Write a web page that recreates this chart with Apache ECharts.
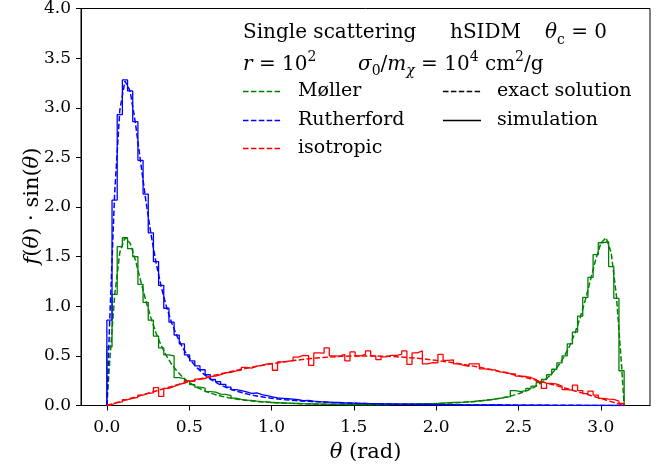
<!DOCTYPE html>
<html>
<head>
<meta charset="utf-8">
<script src="https://cdn.jsdelivr.net/npm/echarts@6/dist/echarts.min.js"></script>
<style>html,body{margin:0;padding:0;background:#fff}#chart{width:671px;height:473px}</style>
</head>
<body>
<div id="chart"></div>
<script>
// ---------- data ----------
const BIN_COUNT = 100;          // histogram bins over [0, pi]
const THETA_MAX = Math.PI;
const xTicks = [0.0, 0.5, 1.0, 1.5, 2.0, 2.5, 3.0];
const yTicks = [0.0, 0.5, 1.0, 1.5, 2.0, 2.5, 3.0, 3.5, 4.0];

// exact solutions, sampled at bin centres
const mollerExact = [
0.4065,1.1072,1.5408,1.6910,1.6352,1.4691,1.2649,1.0637,0.8839,0.7312,
0.6048,0.5016,0.4178,0.3497,0.2943,0.2491,0.2120,0.1814,0.1560,0.1348,
0.1170,0.1020,0.0893,0.0785,0.0692,0.0613,0.0544,0.0485,0.0433,0.0388,
0.0349,0.0315,0.0285,0.0259,0.0235,0.0215,0.0197,0.0181,0.0167,0.0155,
0.0145,0.0135,0.0127,0.0121,0.0115,0.0111,0.0107,0.0104,0.0103,0.0102,
0.0102,0.0103,0.0104,0.0107,0.0111,0.0115,0.0121,0.0127,0.0135,0.0145,
0.0155,0.0167,0.0181,0.0197,0.0215,0.0235,0.0259,0.0285,0.0315,0.0349,
0.0388,0.0433,0.0485,0.0544,0.0613,0.0692,0.0785,0.0893,0.1020,0.1170,
0.1348,0.1560,0.1814,0.2120,0.2491,0.2943,0.3497,0.4178,0.5016,0.6048,
0.7312,0.8839,1.0637,1.2649,1.4691,1.6352,1.6910,1.5408,1.1072,0.4065];
const rutherfordExact = [
0.7835,2.1353,2.9745,3.2692,3.1675,2.8528,2.4635,2.0786,1.7341,1.4408,
1.1976,0.9987,0.8367,0.7049,0.5973,0.5093,0.4368,0.3768,0.3269,0.2851,
0.2499,0.2201,0.1947,0.1729,0.1543,0.1381,0.1241,0.1119,0.1012,0.0918,
0.0835,0.0761,0.0696,0.0638,0.0586,0.0539,0.0497,0.0459,0.0425,0.0394,
0.0366,0.0341,0.0317,0.0296,0.0277,0.0259,0.0242,0.0227,0.0213,0.0200,
0.0188,0.0177,0.0167,0.0157,0.0148,0.0140,0.0132,0.0125,0.0118,0.0112,
0.0106,0.0100,0.0095,0.0090,0.0085,0.0081,0.0076,0.0072,0.0069,0.0065,
0.0062,0.0058,0.0055,0.0052,0.0049,0.0047,0.0044,0.0041,0.0039,0.0037,
0.0034,0.0032,0.0030,0.0028,0.0026,0.0024,0.0022,0.0020,0.0019,0.0017,
0.0015,0.0014,0.0012,0.0010,0.0009,0.0007,0.0005,0.0004,0.0002,0.0001];
const isotropicExact = [
0.0079,0.0236,0.0392,0.0549,0.0705,0.0860,0.1014,0.1167,0.1319,0.1470,
0.1620,0.1767,0.1913,0.2058,0.2200,0.2340,0.2477,0.2612,0.2745,0.2875,
0.3002,0.3126,0.3247,0.3365,0.3480,0.3591,0.3698,0.3802,0.3902,0.3998,
0.4091,0.4179,0.4263,0.4343,0.4419,0.4490,0.4557,0.4619,0.4677,0.4730,
0.4779,0.4823,0.4862,0.4896,0.4926,0.4950,0.4970,0.4985,0.4994,0.4999,
0.4999,0.4994,0.4985,0.4970,0.4950,0.4926,0.4896,0.4862,0.4823,0.4779,
0.4730,0.4677,0.4619,0.4557,0.4490,0.4419,0.4343,0.4263,0.4179,0.4091,
0.3998,0.3902,0.3802,0.3698,0.3591,0.3480,0.3365,0.3247,0.3126,0.3002,
0.2875,0.2745,0.2612,0.2477,0.2340,0.2200,0.2058,0.1913,0.1767,0.1620,
0.1470,0.1319,0.1167,0.1014,0.0860,0.0705,0.0549,0.0392,0.0236,0.0079];

// simulation histograms (one value per bin)
const mollerSim = [
0.59,1.12,1.60,1.69,1.58,1.50,1.22,1.04,0.86,0.70,
0.58,0.51,0.50,0.28,0.27,0.245,0.21,0.185,0.175,0.140,
0.135,0.115,0.112,0.100,0.075,0.062,0.055,0.052,0.045,0.040,
0.036,0.030,0.029,0.025,0.024,0.021,0.020,0.018,0.017,0.015,
0.014,0.014,0.012,0.013,0.011,0.011,0.010,0.011,0.010,0.010,
0.011,0.010,0.011,0.010,0.012,0.012,0.012,0.013,0.014,0.015,
0.016,0.017,0.019,0.020,0.022,0.028,0.030,0.031,0.033,0.036,
0.040,0.048,0.052,0.056,0.065,0.072,0.082,0.090,0.150,0.140,
0.150,0.172,0.195,0.230,0.262,0.310,0.365,0.430,0.500,0.620,
0.740,0.900,1.090,1.290,1.520,1.640,1.650,1.400,1.080,0.350];
const rutherfordSim = [
0.86,2.07,2.93,3.28,3.17,2.86,2.47,2.13,1.74,1.45,
1.21,0.98,0.84,0.71,0.62,0.51,0.45,0.40,0.36,0.31,
0.262,0.240,0.212,0.185,0.160,0.150,0.138,0.122,0.126,0.110,
0.100,0.088,0.076,0.072,0.068,0.064,0.058,0.050,0.052,0.044,
0.040,0.037,0.034,0.031,0.030,0.027,0.025,0.023,0.021,0.022,
0.019,0.018,0.016,0.016,0.015,0.014,0.013,0.013,0.012,0.011,
0.011,0.010,0.009,0.009,0.009,0.008,0.008,0.007,0.007,0.006,
0.006,0.006,0.005,0.005,0.005,0.005,0.004,0.004,0.004,0.004,
0.003,0.003,0.003,0.003,0.003,0.002,0.002,0.002,0.002,0.002,
0.002,0.001,0.001,0.001,0.001,0.001,0.001,0.000,0.000,0.000];
const isotropicSim = [
0.010,0.028,0.036,0.058,0.072,0.082,0.104,0.122,0.128,0.180,
0.092,0.172,0.192,0.212,0.226,0.248,0.244,0.266,0.272,0.292,
0.296,0.312,0.328,0.334,0.348,0.356,0.384,0.376,0.396,0.405,
0.420,0.422,0.355,0.440,0.445,0.455,0.488,0.505,0.502,0.405,
0.530,0.528,0.580,0.500,0.498,0.515,0.450,0.540,0.500,0.515,
0.550,0.500,0.462,0.490,0.505,0.505,0.515,0.550,0.415,0.530,
0.550,0.420,0.432,0.430,0.515,0.455,0.460,0.420,0.405,0.395,
0.420,0.420,0.370,0.362,0.358,0.338,0.335,0.322,0.318,0.295,
0.292,0.282,0.262,0.240,0.172,0.222,0.215,0.196,0.160,0.155,
0.205,0.150,0.120,0.145,0.105,0.072,0.064,0.062,0.044,0.020];

// ---------- helpers (positions only, values come from the arrays) ----------
const binW = THETA_MAX / BIN_COUNT;
function histPoints(vals) {
  const pts = [[0, 0]];
  vals.forEach((v, k) => pts.push([k * binW, v]));
  pts.push([THETA_MAX, 0]);
  return pts;
}
function curvePoints(vals) {
  const pts = [[0, 0]];
  vals.forEach((v, k) => pts.push([(k + 0.5) * binW, v]));
  pts.push([THETA_MAX, 0]);
  return pts;
}

const FONT = 'DejaVu Serif';
const GREEN = '#008000', BLUE = '#0000ff', RED = '#ff0000';
const DASH = [5.5, 2.4];

function histSeries(name, vals, color) {
  return { name, type: 'line', step: 'end', data: histPoints(vals), symbol: 'none',
    lineStyle: { color, width: 1.3 }, itemStyle: { color }, silent: true };
}
function exactSeries(name, vals, color) {
  return { name, type: 'line', data: curvePoints(vals), symbol: 'none',
    lineStyle: { color, width: 1.5, type: DASH }, itemStyle: { color }, silent: true };
}

function rich(sz) {
  const s = Math.round(sz * 0.68);
  return {
    t:   { fontFamily: FONT, fontSize: sz, fill: '#000', lineHeight: sz + 8, verticalAlign: 'middle' },
    i:   { fontFamily: FONT, fontSize: sz, fontStyle: 'italic', fill: '#000', lineHeight: sz + 8, verticalAlign: 'middle' },
    sup: { fontFamily: FONT, fontSize: s, fill: '#000', lineHeight: s, verticalAlign: 'top' },
    sub: { fontFamily: FONT, fontSize: s, fill: '#000', lineHeight: s, verticalAlign: 'bottom' },
    subi:{ fontFamily: FONT, fontSize: s, fontStyle: 'italic', fill: '#000', lineHeight: s, verticalAlign: 'bottom' }
  };
}
function txt(x, y, text, sz, align, rotation) {
  return { type: 'text', x, y, rotation: rotation || 0, silent: true,
    style: { text, rich: rich(sz), fontFamily: FONT, fontSize: sz, fill: '#000', align: align || 'left', verticalAlign: 'middle' } };
}
function legLine(x, y, color, dash) {
  return { type: 'line', silent: true, shape: { x1: x, y1: y, x2: x + 38, y2: y },
    style: { stroke: color, lineWidth: 1.5, lineDash: dash } };
}

const chart = echarts.init(document.getElementById('chart'), null, { renderer: 'canvas' });
chart.setOption({
  animation: false,
  backgroundColor: '#fff',
  grid: { left: 81, right: 21, top: 7, bottom: 67.5, show: true, borderColor: '#000', borderWidth: 1, containLabel: false },
  xAxis: {
    type: 'value', min: -0.15708, max: 3.29867,
    axisLine: { show: true, onZero: false, lineStyle: { color: '#000', width: 1 } },
    axisTick: { show: true, inside: false, length: 5, customValues: xTicks, lineStyle: { color: '#000', width: 1 } },
    axisLabel: { customValues: xTicks, formatter: v => v.toFixed(1), fontFamily: FONT, fontSize: 17, color: '#000', margin: 14 },
    splitLine: { show: false }
  },
  yAxis: {
    type: 'value', min: 0, max: 4, interval: 0.5,
    axisLine: { show: true, onZero: false, lineStyle: { color: '#000', width: 1 } },
    axisTick: { show: true, inside: false, length: 5, customValues: yTicks, lineStyle: { color: '#000', width: 1 } },
    axisLabel: { customValues: yTicks, formatter: v => v.toFixed(1), fontFamily: FONT, fontSize: 17, color: '#000', margin: 10 },
    splitLine: { show: false }
  },
  series: [
    histSeries('Møller simulation', mollerSim, GREEN),
    exactSeries('Møller', mollerExact, GREEN),
    histSeries('Rutherford simulation', rutherfordSim, BLUE),
    exactSeries('Rutherford', rutherfordExact, BLUE),
    histSeries('isotropic simulation', isotropicSim, RED),
    exactSeries('isotropic', isotropicExact, RED)
  ],
  graphic: [
    // annotation
    txt(243, 33, '{t|Single scattering}', 20),
    txt(450, 33, '{t|hSIDM}', 20),
    txt(545, 33, '{i|θ}{sub|c}{t| = 0}', 20),
    txt(243, 64.5, '{i|r}{t| = 10}{sup|2}', 20),
    txt(358, 64.5, '{i|σ}{sub|0}{t|/}{i|m}{subi|χ}{t| = 10}{sup|4}{t| cm}{sup|2}{t|/g}', 20),
    // legend
    legLine(243, 91.5, GREEN, DASH),
    legLine(243, 120.5, BLUE, DASH),
    legLine(243, 148.5, RED, DASH),
    legLine(443, 91.5, '#000', DASH),
    legLine(443, 120.5, '#000', null),
    txt(298, 91.5, '{t|Møller}', 19),
    txt(298, 120.5, '{t|Rutherford}', 19),
    txt(298, 148.5, '{t|isotropic}', 19),
    txt(497, 91.5, '{t|exact solution}', 19),
    txt(497, 120.5, '{t|simulation}', 19),
    // axis titles
    txt(365.5, 453, '{i|θ}{t| (rad)}', 21, 'center'),
    txt(33, 206, '{i|f}{t|(}{i|θ}{t|) · sin(}{i|θ}{t|)}', 21, 'center', Math.PI / 2)
  ]
});
</script>
</body>
</html>
